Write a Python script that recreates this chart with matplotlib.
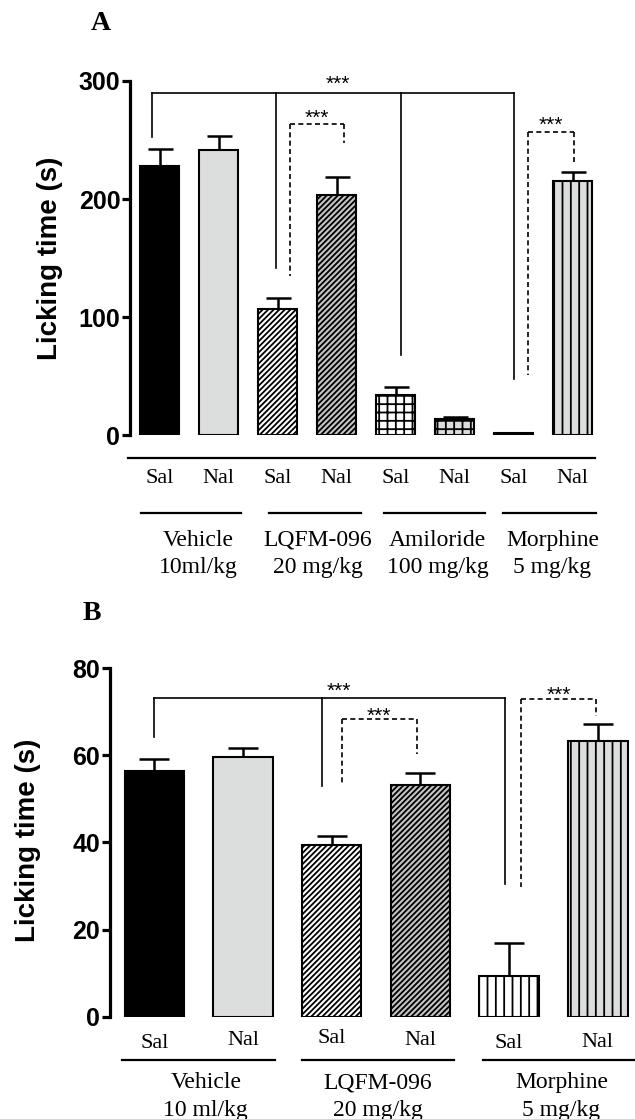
import numpy as np
import matplotlib
matplotlib.use("Agg")
import matplotlib.pyplot as plt

# ---- data ----
a_treat = ["Sal", "Nal", "Sal", "Nal", "Sal", "Nal", "Sal", "Nal"]
a_group_names = ["Vehicle", "LQFM-096", "Amiloride", "Morphine"]
a_group_doses = ["10ml/kg", "20 mg/kg", "100 mg/kg", "5 mg/kg"]
a_mean = [228.3, 241.8, 106.9, 203.5, 34.1, 13.8, 1.7, 215.6]
a_sem = [13.9, 11.9, 9.1, 15.2, 7.1, 2.0, 0.6, 7.1]
a_yticks = [0, 100, 200, 300]

b_treat = ["Sal", "Nal", "Sal", "Nal", "Sal", "Nal"]
b_group_names = ["Vehicle", "LQFM-096", "Morphine"]
b_group_doses = ["10 ml/kg", "20 mg/kg", "5 mg/kg"]
b_mean = [56.4, 59.5, 39.4, 53.2, 9.3, 63.3]
b_sem = [2.8, 2.2, 2.0, 2.7, 7.7, 3.9]
b_yticks = [0, 20, 40, 60, 80]

# ---- styles ----
GRAY = "#dcdedd"
DGRAY = "#c4c4c4"
a_fill = ["black", GRAY, "white", DGRAY, "white", GRAY, "white", GRAY]
a_hatch = [None, None, "//////", "//////", "++", "++", None, "||"]
b_fill = ["black", GRAY, "white", DGRAY, "white", GRAY]
b_hatch = [None, None, "//////", "//////", "||", "||"]

SANS = "Liberation Sans"
SERIF = "Liberation Serif"
plt.rcParams["hatch.linewidth"] = 1.3

W, H = 635, 1119
fig = plt.figure(figsize=(W / 100, H / 100), dpi=100)


def make_axes(left, zero_px, top_px, width_px):
    return fig.add_axes([left / W, 1 - zero_px / H, width_px / W, (zero_px - top_px) / H])


def style_axes(ax, yticks, ylim):
    ax.set_ylim(*ylim)
    ax.set_yticks(yticks)
    for s in ["top", "right", "bottom"]:
        ax.spines[s].set_visible(False)
    ax.spines["left"].set_linewidth(2.3)
    ax.tick_params(axis="y", width=2.3, length=6, pad=1, labelsize=18)
    ax.tick_params(axis="x", bottom=False, labelbottom=False)
    for lab in ax.get_yticklabels():
        lab.set_fontfamily(SANS)
        lab.set_fontweight("bold")


def draw_bars(ax, mean, sem, fills, hatches, capsize):
    x = np.arange(len(mean))
    ax.errorbar(x, mean, yerr=[np.zeros(len(sem)), sem], fmt="none", ecolor="black",
                elinewidth=1.8, capsize=capsize, capthick=1.8, zorder=1)
    for xi, m, fc, h in zip(x, mean, fills, hatches):
        ax.bar(xi, m, width=0.67, color=fc, edgecolor="black", linewidth=1.5,
               hatch=h, zorder=2)


def bracket(ax, xs, top, bottoms, dashed=False):
    ls = (0, (3, 2)) if dashed else "-"
    ax.plot([xs[0], xs[-1]], [top, top], color="black", lw=1.2, ls=ls, clip_on=False)
    for xv, bv in zip(xs, bottoms):
        ax.plot([xv, xv], [top, bv], color="black", lw=1.2, ls=ls, clip_on=False)


def stars(ax, x, y):
    ax.text(x, y, "***", ha="center", va="baseline", fontsize=15, family=SANS, clip_on=False)


# ================= Panel A =================
axA = make_axes(130, 435.3, 81, 472)
axA.set_xlim(-0.5, 7.5)
style_axes(axA, a_yticks, (0, 300))
draw_bars(axA, a_mean, a_sem, a_fill, a_hatch, capsize=9)

bracket(axA, [-0.12, 1.98, 4.1, 6.0], 290, [252.5, 141.5, 68, 48])
stars(axA, 3.03, 292.4)
bracket(axA, [2.22, 3.12], 264, [135, 247.5], dashed=True)
stars(axA, 2.67, 263.6)
bracket(axA, [6.25, 7.02], 257, [51, 230.5], dashed=True)
stars(axA, 6.64, 257.7)

axA.plot([-0.54, 7.38], [-19, -19], color="black", lw=1.6, clip_on=False)
for i, t in enumerate(a_treat):
    axA.text(i, -40.5, t, ha="center", va="baseline", fontsize=16, family=SERIF)
a_line_x = [(-0.31, 1.38), (1.86, 3.41), (3.8, 5.52), (5.83, 7.4)]
a_lab_x = [0.66, 2.68, 4.71, 6.66]
for (x0, x1), xc, nm, ds in zip(a_line_x, a_lab_x, a_group_names, a_group_doses):
    axA.plot([x0, x1], [-66, -66], color="black", lw=1.6, clip_on=False)
    axA.text(xc, -93.7, nm, ha="center", va="baseline", fontsize=17, family=SERIF)
    axA.text(xc, -117, ds, ha="center", va="baseline", fontsize=17, family=SERIF)

fig.text(50 / W, 1 - 258 / H, "Licking time (s)", rotation=90, ha="center", va="center",
         fontsize=20, fontweight="bold", family=SANS)
fig.text(101 / W, 1 - 24 / H, "A", ha="center", va="center", fontsize=20,
         fontweight="bold", family=SERIF)

# ================= Panel B =================
axB = make_axes(110, 1016.7, 668, 524.2)
axB.set_xlim(-0.5, 5.41)
style_axes(axB, b_yticks, (0, 80))
draw_bars(axB, b_mean, b_sem, b_fill, b_hatch, capsize=11)

bracket(axB, [0, 1.89, 3.95], 73.1, [64.1, 53, 30.5])
stars(axB, 2.08, 73.4)
bracket(axB, [2.12, 2.96], 68.4, [53.7, 60.2], dashed=True)
stars(axB, 2.53, 67.6)
bracket(axB, [4.13, 4.98], 72.8, [29.7, 68.9], dashed=True)
stars(axB, 4.56, 72.4)

b_lab_y = [-7.2, -6.5, -6.0, -6.5, -7.2, -6.9]
for i, (t, yy) in enumerate(zip(b_treat, b_lab_y)):
    axB.text(i, yy, t, ha="center", va="baseline", fontsize=16, family=SERIF)
b_line_x = [(-0.36, 1.36), (1.66, 3.38), (3.7, 5.41)]
b_lab_x = [0.58, 2.52, 4.59]
for (x0, x1), xc, nm, ds in zip(b_line_x, b_lab_x, b_group_names, b_group_doses):
    axB.plot([x0, x1], [-9.94, -9.94], color="black", lw=1.6, clip_on=False)
    axB.text(xc, -16.4, nm, ha="center", va="baseline", fontsize=17, family=SERIF)
    axB.text(xc, -22.8, ds, ha="center", va="baseline", fontsize=17, family=SERIF)

fig.text(28 / W, 1 - 840 / H, "Licking time (s)", rotation=90, ha="center", va="center",
         fontsize=20, fontweight="bold", family=SANS)
fig.text(92 / W, 1 - 613 / H, "B", ha="center", va="center", fontsize=20,
         fontweight="bold", family=SERIF)

fig.savefig("out.png", dpi=100)
